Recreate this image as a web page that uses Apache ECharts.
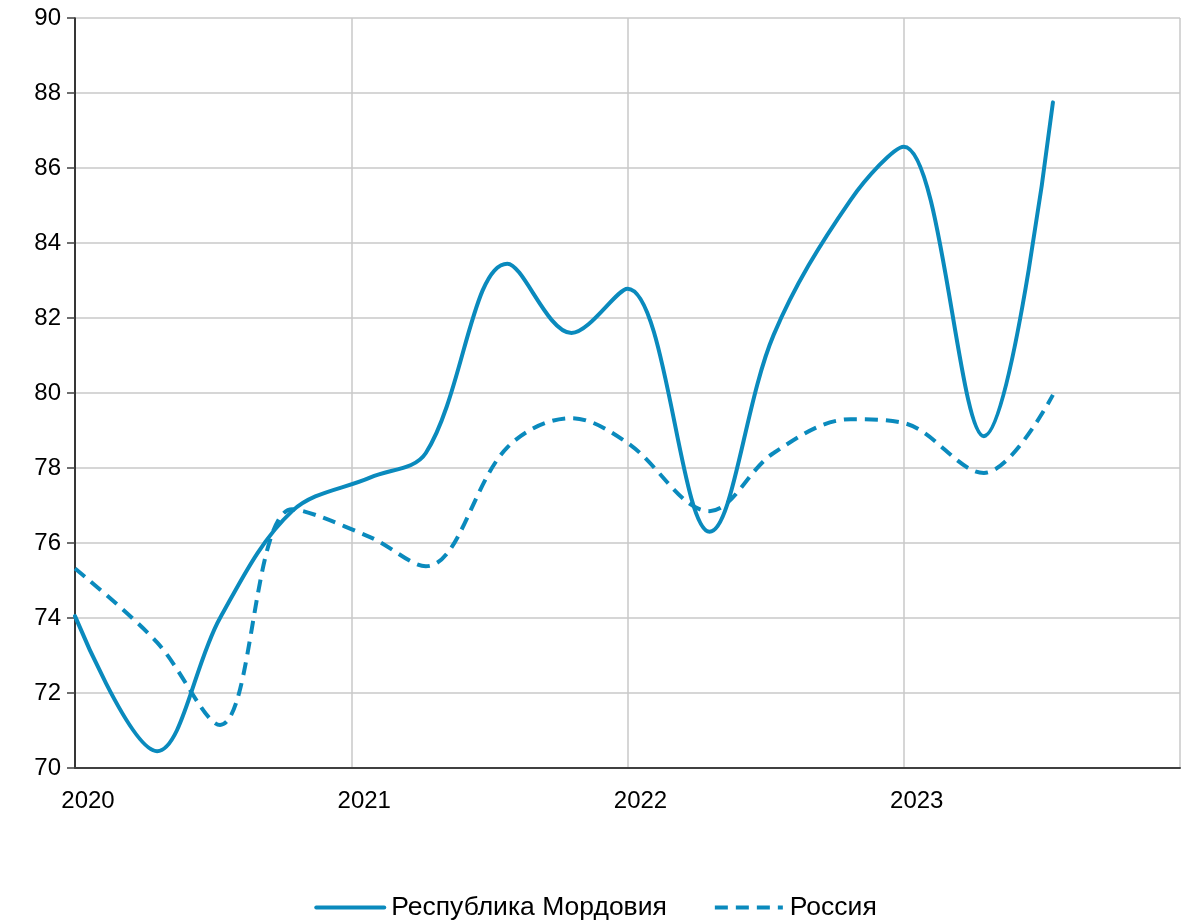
<!DOCTYPE html>
<html>
<head>
<meta charset="utf-8">
<script src="https://cdn.jsdelivr.net/npm/echarts@6/dist/echarts.min.js"></script>
<style>
html,body{margin:0;padding:0;background:#fff;}
#chart{width:1191px;height:922px;}
</style>
</head>
<body>
<div id="chart"></div>
<script>
const periods = [2020.000, 2020.297, 2020.525, 2020.786, 2021.070, 2021.270, 2021.565, 2021.797, 2022.000, 2022.297, 2022.529, 2022.808, 2023.000, 2023.290, 2023.540];
const mordovia = [74.05, 70.45, 74.00, 76.85, 77.75, 78.40, 83.45, 81.60, 82.78, 76.30, 81.55, 85.15, 86.57, 78.85, 87.75];
const russia   = [75.32, 73.35, 71.15, 76.90, 76.15, 75.38, 78.55, 79.33, 78.67, 76.85, 78.40, 79.30, 79.20, 77.87, 79.95];
const seriesNames = ['Республика Мордовия', 'Россия'];
const yearTicks = [2020, 2021, 2022, 2023];

const color = '#0A8ABD';
const font = 'Liberation Sans, Arial, sans-serif';

const chart = echarts.init(document.getElementById('chart'), null, {renderer: 'canvas'});
chart.setOption({
  animation: false,
  backgroundColor: '#ffffff',
  grid: {left: 75, right: 11, top: 18, bottom: 154, containLabel: false},
  xAxis: {
    type: 'value',
    min: 2020, max: 2024, interval: 1,
    axisLine: {show: true, onZero: false, lineStyle: {color: '#404040', width: 2}},
    axisTick: {show: false},
    splitLine: {show: true, lineStyle: {color: '#c8c8c8', width: 1.5}},
    axisLabel: {
      show: true,
      margin: 21,
      fontFamily: font, fontSize: 24, color: '#000',
      padding: [0, 0, 0, 26],
      formatter: function (v) { return yearTicks.indexOf(v) >= 0 ? String(v) : ''; }
    }
  },
  yAxis: {
    type: 'value',
    min: 70, max: 90, interval: 2,
    axisLine: {show: true, lineStyle: {color: '#000', width: 1.5}},
    axisTick: {show: true, inside: false, length: 8, lineStyle: {color: '#404040', width: 1.5}},
    splitLine: {show: true, lineStyle: {color: '#c8c8c8', width: 1.5}},
    axisLabel: {margin: 14, fontFamily: font, fontSize: 24, color: '#000'}
  },
  legend: {
    show: true,
    top: 889,
    left: 'center',
    itemWidth: 68,
    itemHeight: 26,
    itemGap: 46,
    itemStyle: {opacity: 0},
    lineStyle: {width: 4},
    textStyle: {fontFamily: font, fontSize: 26.5, color: '#000', padding: [0, 0, 0, 2]},
    data: seriesNames
  },
  series: [
    {
      name: seriesNames[0],
      type: 'line',
      data: periods.map((p, i) => [p, mordovia[i]]),
      smooth: 0.35,
      showSymbol: false,
      symbol: 'none',
      lineStyle: {color: color, width: 4, cap: 'round'},
      itemStyle: {color: color}
    },
    {
      name: seriesNames[1],
      type: 'line',
      data: periods.map((p, i) => [p, russia[i]]),
      smooth: 0.35,
      showSymbol: false,
      symbol: 'none',
      lineStyle: {color: color, width: 4, type: [13, 8], cap: 'butt'},
      itemStyle: {color: color}
    }
  ]
});
</script>
</body>
</html>
